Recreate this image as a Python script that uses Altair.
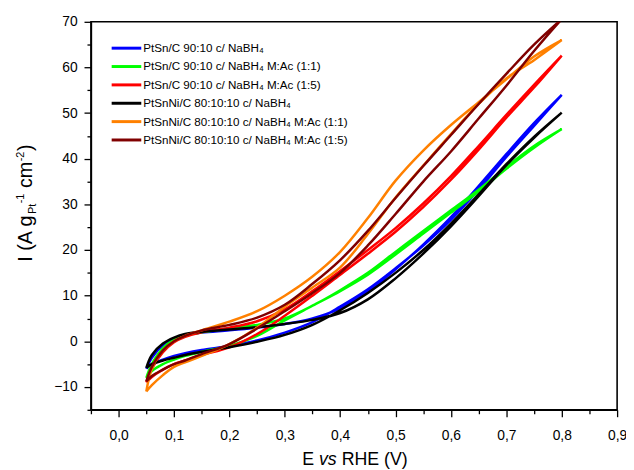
import altair as alt
import pandas as pd

# ---------------- data ----------------
E = [0.05, 0.06, 0.08, 0.10, 0.12, 0.15, 0.20, 0.25, 0.30, 0.35,
     0.40, 0.45, 0.50, 0.55, 0.60, 0.65, 0.70, 0.75, 0.80]

series = [
    "PtSn/C 90:10 c/ NaBH\u2084",
    "PtSn/C 90:10 c/ NaBH\u2084 M:Ac (1:1)",
    "PtSn/C 90:10 c/ NaBH\u2084 M:Ac (1:5)",
    "PtSnNi/C 80:10:10 c/ NaBH\u2084",
    "PtSnNi/C 80:10:10 c/ NaBH\u2084 M:Ac (1:1)",
    "PtSnNi/C 80:10:10 c/ NaBH\u2084 M:Ac (1:5)",
]
colors = ["#0000FF", "#00FF00", "#FF0000", "#000000", "#FF8000", "#800000"]

# positive-going scan (values at E)
blue_fwd = [-6.0, -3.6, -0.8, 0.6, 1.3, 1.9, 2.4, 3.0, 3.8, 5.0, 7.2, 10.8, 15.8, 21.2, 27.2, 34.0, 41.0, 47.8, 54.0]
green_fwd = [-8.0, -5.0, -1.5, 0.3, 1.2, 2.0, 2.8, 3.6, 5.0, 7.8, 11.2, 15.0, 19.6, 24.2, 28.7, 33.2, 38.2, 42.8, 46.5]
red_fwd = [-9.0, -6.0, -2.4, -0.2, 1.0, 2.0, 3.0, 4.4, 7.0, 11.0, 15.4, 20.0, 24.8, 30.2, 36.2, 42.8, 49.6, 56.2, 62.6]
black_fwd = [-5.8, -3.0, -0.5, 0.8, 1.6, 2.1, 2.6, 3.1, 3.8, 4.7, 6.2, 9.2, 13.8, 19.2, 25.2, 31.8, 38.6, 44.6, 50.1]
orange_fwd = [-11.0, -6.0, -2.0, 0.0, 1.2, 2.4, 4.3, 6.6, 10.0, 14.2, 19.6, 27.0, 35.2, 41.8, 47.4, 52.4, 57.4, 62.4, 66.0]
brown_fwd = [-8.8, -5.6, -2.0, 0.0, 1.2, 2.4, 3.6, 5.2, 8.0, 12.6, 17.8, 24.2, 31.4, 38.4, 45.2, 52.0, 58.6, 65.0, 70.6]

# negative-going scan (values at E)
blue_rev = [-6.0, -5.0, -4.0, -3.2, -2.6, -1.9, -1.0, 0.2, 1.9, 4.2, 7.6, 11.4, 16.0, 21.0, 26.6, 33.2, 40.4, 47.2, 54.0]
green_rev = [-8.0, -6.5, -5.0, -4.0, -3.2, -2.3, -1.0, 1.2, 4.6, 7.8, 11.0, 14.6, 19.0, 23.6, 28.2, 32.8, 37.8, 42.4, 46.5]
red_rev = [-9.0, -7.8, -6.2, -5.0, -4.2, -3.0, -1.3, 1.6, 5.6, 10.0, 14.6, 19.2, 24.0, 29.4, 35.4, 42.0, 49.0, 55.6, 62.6]
black_rev = [-5.8, -5.0, -4.2, -3.6, -3.0, -2.3, -1.3, -0.1, 1.4, 3.6, 6.8, 10.6, 15.0, 20.0, 25.8, 32.2, 38.8, 44.8, 50.1]
orange_rev = [-11.0, -9.6, -7.4, -5.6, -4.6, -3.2, -0.6, 3.0, 7.6, 11.8, 16.2, 23.5, 31.5, 38.5, 45.4, 52.0, 57.6, 61.6, 66.0]
brown_rev = [-8.8, -7.6, -6.2, -5.0, -4.2, -2.8, -0.6, 2.8, 6.6, 10.6, 15.0, 21.0, 27.9, 35.0, 41.6, 48.8, 56.0, 63.6, 70.6]

fwd = [blue_fwd, green_fwd, red_fwd, black_fwd, orange_fwd, brown_fwd]
rev = [blue_rev, green_rev, red_rev, black_rev, orange_rev, brown_rev]

x_ticks = [round(-0.05 + 0.05 * i, 2) for i in range(20)]
y_ticks = list(range(-15, 75, 5))

# ---------------- table ----------------
rows = []
for s, f, r in zip(series, fwd, rev):
    k = 0
    for e, i in zip(E, f):
        rows.append({"series": s, "k": k, "E": e, "I": i}); k += 1
    for e, i in zip(E[::-1], r[::-1]):
        rows.append({"series": s, "k": k, "E": e, "I": i}); k += 1
df = pd.DataFrame(rows)

FONT = "Liberation Sans"
W, H = 533, 393

x_label_expr = ("abs(round(datum.value*20)) % 2 == 0 ? "
                "replace(format(datum.value, '.1f'), '.', ',') : ''")
y_label_expr = "datum.value % 10 == 0 ? format(datum.value, 'd') : ''"

lines = alt.Chart(df).mark_line(strokeWidth=2.5, clip=True, interpolate="catmull-rom").encode(
    x=alt.X("E:Q",
            scale=alt.Scale(domain=[-0.05, 0.9], nice=False, zero=False),
            axis=alt.Axis(values=x_ticks, labelExpr=x_label_expr, title=None, grid=False,
                          labelOverlap=False, labelFlush=False, labelFontSize=14,
                          labelPadding=12, labelColor="black",
                          tickSize={"condition": {"test": "abs(round(datum.value*20)) % 2 == 0", "value": 7}, "value": 4},
                          tickColor="black", tickWidth=1.3, domainColor="black", domainWidth=1.5)),
    y=alt.Y("I:Q",
            scale=alt.Scale(domain=[-15, 70], nice=False, zero=False),
            axis=alt.Axis(values=y_ticks, labelExpr=y_label_expr, title=None, grid=False,
                          labelOverlap=False, labelFlush=False, labelFontSize=14,
                          labelPadding=7, labelColor="black",
                          tickSize={"condition": {"test": "datum.value % 10 == 0", "value": 7}, "value": 4},
                          tickColor="black", tickWidth=1.3, domainColor="black", domainWidth=1.5)),
    color=alt.Color("series:N", scale=alt.Scale(domain=series, range=colors), legend=None),
    detail="series:N",
    order=alt.Order("k:Q"),
)

one = pd.DataFrame({"a": [0]})
layers = [lines]

# legend (manual)
for idx, (s, c) in enumerate(zip(series, colors)):
    ly = 26.7 + 18.6 * idx
    layers.append(alt.Chart(one).mark_rule(color=c, strokeWidth=3).encode(
        x=alt.value(21), x2=alt.value(51), y=alt.value(ly)))
    layers.append(alt.Chart(one).mark_text(align="left", baseline="middle", fontSize=11.8,
                                           font=FONT, color="black").encode(
        x=alt.value(53), y=alt.value(ly), text=alt.value(s)))

# axis titles built from pieces (sub/superscripts, italic)
EM = {'I': 0.278, ' ': 0.278, '(': 0.333, ')': 0.333, 'A': 0.667, 'g': 0.556,
      'P': 0.667, 't': 0.278, '-': 0.333, '1': 0.556, '2': 0.556, 'c': 0.5, 'm': 0.833,
      'E': 0.667, 'v': 0.5, 's': 0.5, 'R': 0.722, 'H': 0.722, 'V': 0.667}

def tw(t, fs):
    return sum(EM.get(ch, 0.556) for ch in t) * fs

# x title: "E vs RHE (V)"  (text, style, gap before)
x_pieces = [("E", "normal", 0), ("vs", "italic", 1), ("RHE (V)", "normal", 1)]
px = 214.0
for t, st, gap in x_pieces:
    px += gap * tw(" ", 18)
    layers.append(alt.Chart(one).mark_text(align="left", baseline="alphabetic", fontSize=18,
                                           font=FONT, fontStyle=st, color="black").encode(
        x=alt.value(px), y=alt.value(449), text=alt.value(t)))
    px += tw(t, 18)

# y title: "I (A g_Pt^-1 cm^-2)"  (text, font size, shift across baseline, gap before)
y_pieces = [("I (A g", 20, 0, 0), ("Pt", 11, 4, 0.5), ("-1", 11, -8, 0.5),
            ("cm", 20, 0, 5.6), ("-2", 11, -8, 0.5), (")", 20, 0, 0.5)]
py = 243.0
for t, fs, sh, gap in y_pieces:
    py -= gap
    layers.append(alt.Chart(one).mark_text(align="left", baseline="alphabetic", fontSize=fs,
                                           font=FONT, angle=270, color="black").encode(
        x=alt.value(-60 + sh), y=alt.value(py), text=alt.value(t)))
    py -= tw(t, fs)

chart = alt.layer(*layers).properties(
    width=W, height=H,
    autosize=alt.AutoSizeParams(type="none"),
    padding={"left": 84, "top": 11, "right": 9, "bottom": 58},
).configure(font=FONT).configure_view(stroke="black", strokeWidth=1.6)

chart.save("out.html", embed_options={"renderer": "svg", "actions": False})
